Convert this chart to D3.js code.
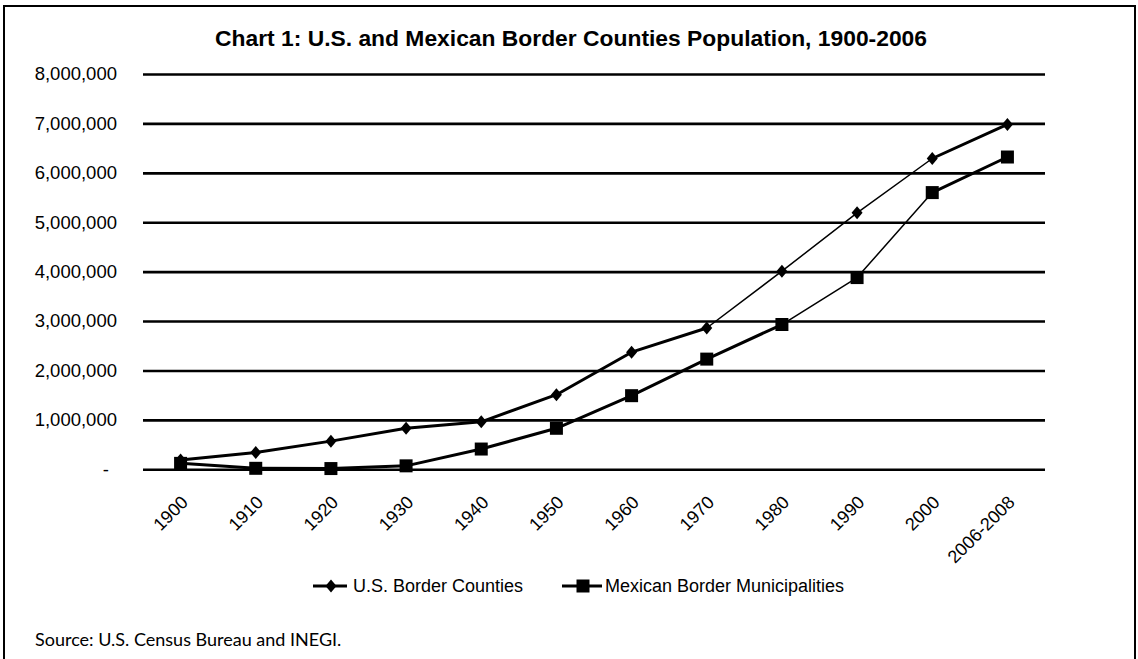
<!DOCTYPE html>
<html lang="en">

<head>
    <meta charset="UTF-8">
    <style>
        body { margin: 0; background: #fff; }
        text { font-family: Arial, "Liberation Sans", sans-serif; fill: #000; }
    </style>
</head>

<body>
    <svg width="1138" height="659"></svg>
    <script src="https://d3js.org/d3.v7.min.js"></script>
    <script>
        // values
        const years = ["1900", "1910", "1920", "1930", "1940", "1950", "1960", "1970", "1980", "1990", "2000", "2006-2008"]
        const usBorderCounties = [190000, 340000, 570000, 830000, 960000, 1510000, 2370000, 2860000, 4010000, 5190000, 6290000, 6980000]
        const mexicanBorderMunicipalities = [120000, 20000, 15000, 70000, 410000, 830000, 1490000, 2230000, 2930000, 3880000, 5600000, 6320000]
        const yTicks = [0, 1000000, 2000000, 3000000, 4000000, 5000000, 6000000, 7000000, 8000000]
        const seriesNames = ["U.S. Border Counties", "Mexican Border Municipalities"]

        const title = "Chart 1: U.S. and Mexican Border Counties Population, 1900-2006"
        const source = "Source: U.S. Census Bureau and INEGI."

        var svg = d3.select("svg")

        // outer frame (bottom edge is cut off in the original)
        svg.append("path")
            .attr("d", "M4,659 V6 H1135 V659")
            .attr("fill", "none")
            .attr("stroke", "#000")
            .attr("stroke-width", 2)

        var x = d3.scaleBand().domain(years).range([143, 1045])
        var y = d3.scaleLinear().domain([0, 8000000]).range([469.3, 74])
        var fmt = d3.format(",")

        svg.append("text")
            .attr("x", 571)
            .attr("y", 46)
            .attr("text-anchor", "middle")
            .attr("font-size", 22)
            .attr("font-weight", "bold")
            .attr("textLength", 712)
            .attr("lengthAdjust", "spacingAndGlyphs")
            .text(title)

        // gridlines + y labels
        var yAxis = d3.axisLeft(y)
            .tickValues(yTicks)
            .tickSize(-(1045 - 143))
            .tickPadding(26)
            .tickFormat(d => d == 0 ? "-" : fmt(d))

        var gy = svg.append("g")
            .attr("transform", "translate(143,0)")
            .call(yAxis)
        gy.select(".domain").remove()
        gy.selectAll(".tick line")
            .attr("stroke", "#000")
            .attr("stroke-width", 2.6)
        gy.selectAll(".tick text")
            .attr("font-size", 18.5)
            .attr("font-family", "Arial, 'Liberation Sans', sans-serif")
            .attr("fill", "#000")
        gy.selectAll(".tick text")
            .filter(d => d == 0)
            .attr("dx", -8)

        // x labels, rotated
        svg.append("g")
            .selectAll("text")
            .data(years)
            .enter()
            .append("text")
            .attr("transform", d => "translate(" + (x(d) + x.bandwidth() / 2 + 4) + ",499) rotate(-45)")
            .attr("text-anchor", "end")
            .attr("dy", "0.35em")
            .attr("font-size", 18)
            .text(d => d)

        // the lines look thinner on steep stretches in the original
        function drawSeries(values, marker) {
            var pts = values.map((v, i) => ({ x: x(years[i]) + x.bandwidth() / 2, y: y(v) }))
            var segs = d3.pairs(pts)
            svg.append("g")
                .selectAll("line")
                .data(segs)
                .enter()
                .append("line")
                .attr("x1", d => d[0].x)
                .attr("y1", d => d[0].y)
                .attr("x2", d => d[1].x)
                .attr("y2", d => d[1].y)
                .attr("stroke", "#000")
                .attr("stroke-linecap", "round")
                .attr("stroke-width", d => Math.abs((d[1].y - d[0].y) / (d[1].x - d[0].x)) > 0.62 ? 1.5 : 3)

            svg.append("g")
                .selectAll("path")
                .data(pts)
                .enter()
                .append("path")
                .attr("transform", d => "translate(" + d.x + "," + d.y + ")")
                .attr("d", marker)
                .attr("fill", "#000")
        }

        var diamond = "M0,-6.5 L5.5,0 L0,6.5 L-5.5,0 Z"
        var square = "M-6.5,-6.5 H6.5 V6.5 H-6.5 Z"

        drawSeries(usBorderCounties, diamond)
        drawSeries(mexicanBorderMunicipalities, square)

        // legend
        var legend = [
            { name: seriesNames[0], x1: 313, x2: 347, mx: 331, marker: diamond, tx: 353 },
            { name: seriesNames[1], x1: 562, x2: 602, mx: 583, marker: square, tx: 605 }
        ]
        var lg = svg.append("g")
            .selectAll("g")
            .data(legend)
            .enter()
            .append("g")
        lg.append("line")
            .attr("x1", d => d.x1)
            .attr("x2", d => d.x2)
            .attr("y1", 586)
            .attr("y2", 586)
            .attr("stroke", "#000")
            .attr("stroke-width", 3)
        lg.append("path")
            .attr("transform", d => "translate(" + d.mx + ",586)")
            .attr("d", d => d.marker)
            .attr("fill", "#000")
        lg.append("text")
            .attr("x", d => d.tx)
            .attr("y", 586)
            .attr("dy", "0.35em")
            .attr("font-size", 18)
            .text(d => d.name)

        svg.append("text")
            .attr("x", 35)
            .attr("y", 646)
            .attr("font-size", 18)
            .style("font-family", "Lato, 'Open Sans', sans-serif")
            .text(source)
    </script>
</body>

</html>
